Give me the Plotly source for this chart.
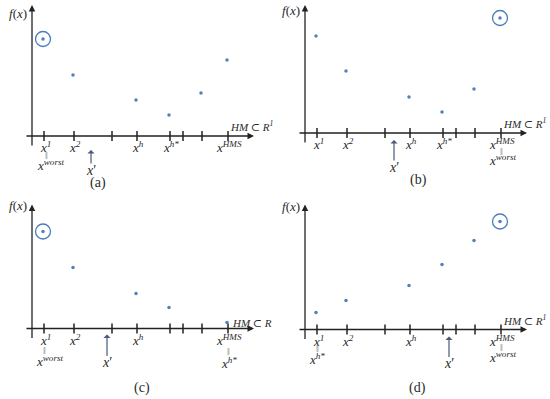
import plotly.graph_objects as go

# tick positions along the HM axis (relative to the f(x) axis)
tick_x = [12, 42, 80, 105, 138, 151, 170, 196]

# which ticks carry a harmony point, and f(x) values per panel
a_idx = [0, 1, 3, 4, 6, 7]
a_f = [97, 61, 36, 21, 43, 76]
b_idx = [0, 1, 3, 4, 6, 7]
b_f = [97, 62, 36, 21, 44, 115]
c_idx = [0, 1, 3, 4, 7]
c_f = [97, 61, 35, 21, 6]
d_idx = [0, 1, 3, 4, 6, 7]
d_f = [17, 29, 44, 65, 89, 108]

# worst point (circled), index into the point list
worst = {"a": 0, "b": 5, "c": 0, "d": 5}
# new harmony x' position and where its arrow tip sits
x_new = {"a": 59, "b": 89, "c": 75, "d": 144}
x_new_tip = {"a": -14, "b": -7, "c": -6, "d": -7}

# tick labels shown under the axis per panel
full_labels = ["1", "2", None, "h", "h*", None, None, "HMS"]
short_labels = ["1", "2", None, "h", None, None, None, "HMS"]

panels = [
    dict(name="a", idx=a_idx, f=a_f, ax="x", ay="y", origin=(32, 136),
         dom=([0, 0.5], [0.5, 1]), hm="HM ⊂ R<sup>1</sup>", labels=full_labels),
    dict(name="b", idx=b_idx, f=b_f, ax="x2", ay="y2", origin=(30, 133),
         dom=([0.5, 1], [0.5, 1]), hm="HM ⊂ R<sup>1</sup>", labels=full_labels),
    dict(name="c", idx=c_idx, f=c_f, ax="x3", ay="y3", origin=(32, 129),
         dom=([0, 0.5], [0, 0.5]), hm="HM ⊂ R", labels=short_labels),
    dict(name="d", idx=d_idx, f=d_f, ax="x4", ay="y4", origin=(30, 130),
         dom=([0.5, 1], [0, 0.5]), hm="HM ⊂ R<sup>1</sup>", labels=short_labels),
]

TXT = "#2a2a2a"
DOT = "#4f81bd"
FONT = dict(family="Liberation Serif, DejaVu Serif, serif", size=13, color=TXT)


def xl(sup):
    return "<i>x</i><sup><i>" + sup + "</i></sup>"


fig = go.Figure()
annotations = []
layout_axes = {}

for k, p in enumerate(panels):
    n = "" if k == 0 else str(k + 1)
    ox, oy = p["origin"]
    layout_axes["xaxis" + n] = dict(domain=p["dom"][0], range=[-ox, 275 - ox],
                                    visible=False, anchor=p["ay"], fixedrange=True)
    layout_axes["yaxis" + n] = dict(domain=p["dom"][1], range=[-(199.5 - oy), oy],
                                    visible=False, anchor=p["ax"], fixedrange=True)

    # tick marks
    fig.add_trace(go.Scatter(x=tick_x, y=[0] * len(tick_x), mode="markers",
                             xaxis=p["ax"], yaxis=p["ay"], hoverinfo="skip",
                             marker=dict(symbol="line-ns", size=7, color="#222222",
                                         line=dict(width=1.5, color="#222222"))))
    # harmony points
    px = [tick_x[i] - 1 for i in p["idx"]]
    fig.add_trace(go.Scatter(x=px, y=p["f"], mode="markers",
                             xaxis=p["ax"], yaxis=p["ay"],
                             marker=dict(size=3.5, color=DOT)))
    # circle round the worst
    w = worst[p["name"]]
    fig.add_trace(go.Scatter(x=[px[w]], y=[p["f"][w]], mode="markers",
                             xaxis=p["ax"], yaxis=p["ay"], hoverinfo="skip",
                             marker=dict(symbol="circle-open", size=15, color="#4a7ebb",
                                         line=dict(width=1.3, color="#4a7ebb"))))

    def arrow(x, y, axx, ayy, color="#222222", width=1.3, head=2):
        annotations.append(dict(x=x, y=y, ax=axx, ay=ayy, xref=p["ax"], yref=p["ay"],
                                axref=p["ax"], ayref=p["ay"], showarrow=True, text="",
                                arrowhead=head, arrowsize=1, arrowwidth=width,
                                arrowcolor=color))

    def label(x, y, text, size=13, color=TXT):
        annotations.append(dict(x=x, y=y, xref=p["ax"], yref=p["ay"], text=text,
                                showarrow=False, xanchor="center",
                                font=dict(FONT, size=size, color=color)))

    def eq(x, y):
        label(x, y, "‖", size=10, color="#7a7a7a")

    # axes
    arrow(0, oy - 5, 0, -11)
    arrow(222, 0, -7, 0)
    label(-14, 123, "<i>f</i>(<i>x</i>)", size=13)
    label(220, 10 if p["name"] != "c" else 6, "<i>" + p["hm"] + "</i>", size=11)

    # x' arrow
    xn = x_new[p["name"]]
    arrow(xn, x_new_tip[p["name"]], xn, -29, color="#4a5a7a", width=1.2, head=1)
    label(xn, -34, "<i>x</i>′", size=14)

    # tick labels
    for i, t in enumerate(p["labels"]):
        if t is not None:
            label(tick_x[i] + 1, -11, xl(t))

    if p["name"] == "a":
        eq(tick_x[0] + 2, -19)
        label(tick_x[0] + 6, -29, xl("worst"))
        label(66, -47, "(a)", size=14)
    elif p["name"] == "b":
        eq(tick_x[7], -18)
        label(tick_x[7] + 1, -27, xl("worst"))
        label(113, -47, "(b)", size=14)
    elif p["name"] == "c":
        eq(tick_x[0], -22)
        label(tick_x[0] + 5, -32, xl("worst"))
        eq(tick_x[7], -23)
        label(tick_x[7] + 1, -34, xl("h*"))
        label(110, -59, "(c)", size=14)
    else:
        eq(tick_x[0], -19)
        label(tick_x[0], -29, xl("h*"))
        eq(tick_x[7], -18)
        label(tick_x[7] + 1, -27, xl("worst"))
        label(112, -58, "(d)", size=14)

fig.update_layout(
    width=550, height=399,
    margin=dict(l=0, r=0, t=0, b=0),
    paper_bgcolor="white", plot_bgcolor="white",
    showlegend=False,
    annotations=annotations,
    **layout_axes,
)

fig.write_html("out.html", config={"displayModeBar": False},
               post_script="document.body.style.margin='0';")
